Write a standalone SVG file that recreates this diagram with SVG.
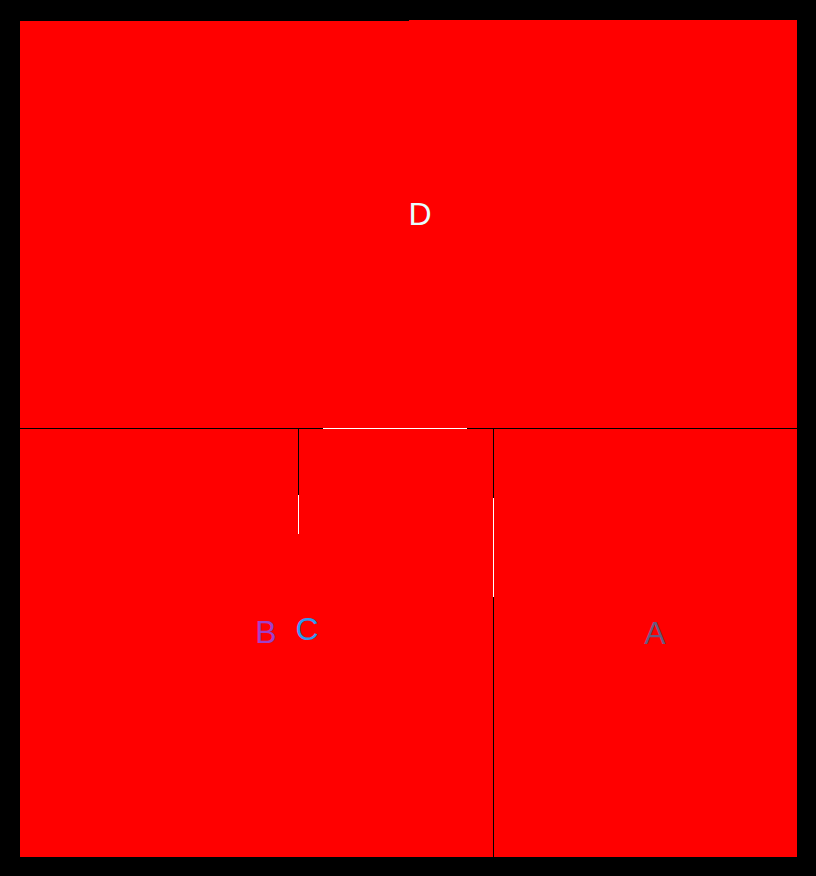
<svg xmlns="http://www.w3.org/2000/svg" width="816" height="876" viewBox="0 0 816 876">
<style>
.area{fill:#ff0000}
.lbl{font-family:"Liberation Sans",Arial,sans-serif;font-size:32px;text-anchor:middle}
.dark{stroke:#000;stroke-width:1;fill:none}
.light{stroke:#fff;stroke-width:1;fill:none}
</style>
<rect x="0" y="0" width="816" height="876" fill="#000"/>
<g id="D">
<path class="area" d="M20,21 H409 V20 H797 V428 H20 Z"/>
<text class="lbl" x="420" y="225" fill="#e6ffff">D</text>
</g>
<g id="B">
<rect class="area" x="20" y="428" width="473" height="429"/>
<text class="lbl" x="266" y="643" fill="#a040c8">B</text>
</g>
<g id="C">
<text class="lbl" x="307" y="640" fill="#3399ee">C</text>
</g>
<g id="A">
<rect class="area" x="493" y="428" width="304" height="429"/>
<text class="lbl" x="655" y="644" fill="#6a5a80">A</text>
</g>
<g id="connectors">
<line class="dark" x1="20" y1="428.5" x2="797" y2="428.5"/>
<line class="light" x1="323" y1="428.5" x2="467" y2="428.5"/>
<line class="dark" x1="298.5" y1="428" x2="298.5" y2="495"/>
<line class="light" x1="298.5" y1="495" x2="298.5" y2="534"/>
<line class="dark" x1="493.5" y1="428" x2="493.5" y2="498"/>
<line class="light" x1="493.5" y1="498" x2="493.5" y2="597"/>
<line class="dark" x1="493.5" y1="597" x2="493.5" y2="857"/>
</g>
</svg>
